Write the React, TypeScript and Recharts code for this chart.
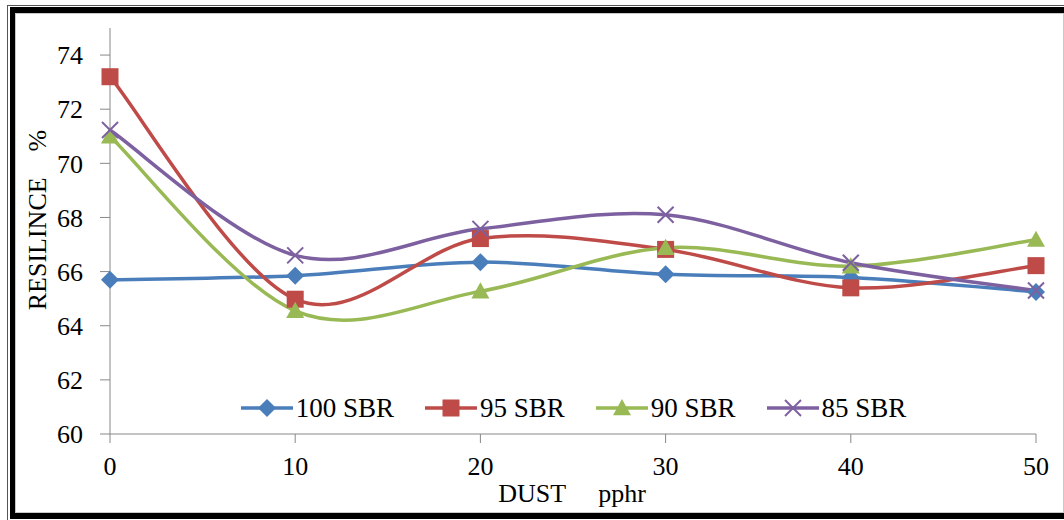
import { LineChart, Line, XAxis, YAxis } from "recharts";

const dust = [0, 10, 20, 30, 40, 50];
const sbr100 = [65.7, 65.85, 66.35, 65.9, 65.78, 65.25];
const sbr95 = [73.2, 64.98, 67.22, 66.82, 65.4, 66.22];
const sbr90 = [71.0, 64.55, 65.27, 66.88, 66.2, 67.18];
const sbr85 = [71.23, 66.6, 67.58, 68.1, 66.33, 65.3];
const yTicks = [60, 62, 64, 66, 68, 70, 72, 74];
const xTicks = [0, 10, 20, 30, 40, 50];

const data = dust.map((d, i) => ({
  dust: d,
  s100: sbr100[i],
  s95: sbr95[i],
  s90: sbr90[i],
  s85: sbr85[i],
}));

const FONT = "Liberation Serif, serif";
const BLUE = "#4A7EBB";
const RED = "#BE4B48";
const GREEN = "#98B954";
const PURPLE = "#7D60A0";

// smooth line like the spreadsheet one (catmull-rom, tension 1/6)
function smoothCurve(context: any) {
  let pts: number[][] = [];
  return {
    areaStart() {},
    areaEnd() {},
    lineStart() {
      pts = [];
    },
    point(x: number, y: number) {
      pts.push([+x, +y]);
    },
    lineEnd() {
      if (!pts.length) return;
      context.moveTo(pts[0][0], pts[0][1]);
      for (let i = 0; i < pts.length - 1; i++) {
        const p0 = pts[i - 1] || pts[i];
        const p1 = pts[i];
        const p2 = pts[i + 1];
        const p3 = pts[i + 2] || p2;
        context.bezierCurveTo(
          p1[0] + (p2[0] - p0[0]) / 6,
          p1[1] + (p2[1] - p0[1]) / 6,
          p2[0] - (p3[0] - p1[0]) / 6,
          p2[1] - (p3[1] - p1[1]) / 6,
          p2[0],
          p2[1]
        );
      }
    },
  };
}

type Shape = "diamond" | "square" | "triangle" | "cross";

function Marker({ cx, cy, shape, color }: { cx: number; cy: number; shape: Shape; color: string }) {
  if (shape === "diamond") {
    const r = 9;
    return <polygon points={`${cx},${cy - r} ${cx + r},${cy} ${cx},${cy + r} ${cx - r},${cy}`} fill={color} />;
  }
  if (shape === "square") {
    const r = 8.5;
    return <rect x={cx - r} y={cy - r} width={r * 2} height={r * 2} fill={color} />;
  }
  if (shape === "triangle") {
    const r = 9;
    return <polygon points={`${cx},${cy - r} ${cx + r},${cy + r * 0.8} ${cx - r},${cy + r * 0.8}`} fill={color} />;
  }
  const r = 8;
  return (
    <g stroke={color} strokeWidth={2}>
      <line x1={cx - r} y1={cy - r} x2={cx + r} y2={cy + r} />
      <line x1={cx - r} y1={cy + r} x2={cx + r} y2={cy - r} />
    </g>
  );
}

const series: { key: string; name: string; color: string; shape: Shape }[] = [
  { key: "s100", name: "100 SBR", color: BLUE, shape: "diamond" },
  { key: "s95", name: "95 SBR", color: RED, shape: "square" },
  { key: "s90", name: "90 SBR", color: GREEN, shape: "triangle" },
  { key: "s85", name: "85 SBR", color: PURPLE, shape: "cross" },
];

const tickStyle = { fontSize: 26, fill: "#000", fontFamily: FONT };

function LegendBox() {
  return (
    <div
      style={{
        position: "absolute",
        left: 110,
        width: 926,
        top: 392,
        display: "flex",
        justifyContent: "center",
        gap: 30,
        fontFamily: FONT,
        fontSize: 27,
        lineHeight: "32px",
        color: "#000",
      }}
    >
      {series.map((s) => (
        <div key={s.key} style={{ display: "flex", alignItems: "center" }}>
          <svg width={54} height={32}>
            <line x1={1} y1={16} x2={53} y2={16} stroke={s.color} strokeWidth={3.5} />
            <Marker cx={27} cy={16} shape={s.shape} color={s.color} />
          </svg>
          <span style={{ marginLeft: 2 }}>{s.name}</span>
        </div>
      ))}
    </div>
  );
}

export default function App() {
  return (
    <div
      style={{
        position: "fixed",
        left: 0,
        top: 0,
        width: 1064,
        height: 520,
        overflow: "hidden",
        background: "#fff",
        fontFamily: FONT,
      }}
    >
      <div
        style={{
          position: "absolute",
          left: 7,
          top: 5,
          width: 1200,
          height: 700,
          borderTop: "1px solid #555",
          borderLeft: "1px solid #555",
        }}
      />
      <div
        style={{
          position: "absolute",
          left: 10,
          top: 7,
          width: 1200,
          height: 512,
          boxSizing: "border-box",
          borderTop: "6px solid #000",
          borderLeft: "5px solid #000",
          borderBottom: "7px solid #000",
        }}
      />
      <div
        style={{
          position: "absolute",
          left: 15,
          top: 13,
          width: 1049,
          height: 500,
          boxSizing: "border-box",
          border: "1px solid #c8c8c8",
        }}
      />
      <div style={{ position: "absolute", left: 0, top: 0 }}>
        <LineChart
          width={1064}
          height={520}
          data={data}
          margin={{ top: 28, right: 28, bottom: 0, left: 0 }}
          style={{ fontFamily: FONT }}
        >
          <XAxis
            dataKey="dust"
            type="number"
            domain={[0, 50]}
            ticks={xTicks}
            height={86}
            stroke="#888"
            tickSize={9}
            tickMargin={14}
            tick={tickStyle}
            label={{
              content: () => (
                <text
                  x={572}
                  y={502}
                  textAnchor="middle"
                  fontFamily={FONT}
                  fontSize={26}
                  fill="#000"
                  style={{ whiteSpace: "pre" }}
                >
                  {"DUST     pphr"}
                </text>
              ),
            }}
          />
          <YAxis
            type="number"
            domain={[60, 75]}
            ticks={yTicks}
            width={110}
            stroke="#888"
            tickSize={10}
            tickMargin={17}
            tick={tickStyle}
            label={{
              content: () => (
                <text
                  x={46}
                  y={220}
                  textAnchor="middle"
                  transform="rotate(-90 46 220)"
                  fontFamily={FONT}
                  fontSize={26}
                  fill="#000"
                  style={{ whiteSpace: "pre" }}
                >
                  {"RESILINCE    %"}
                </text>
              ),
            }}
          />
          {series.map((s) => (
            <Line
              key={s.key}
              dataKey={s.key}
              name={s.name}
              type={smoothCurve as any}
              stroke={s.color}
              strokeWidth={3.5}
              isAnimationActive={false}
              dot={(p: any) => (
                <Marker key={`${s.key}-${p.index}`} cx={p.cx} cy={p.cy} shape={s.shape} color={s.color} />
              )}
              activeDot={false}
            />
          ))}
        </LineChart>
      </div>
      <LegendBox />
    </div>
  );
}
